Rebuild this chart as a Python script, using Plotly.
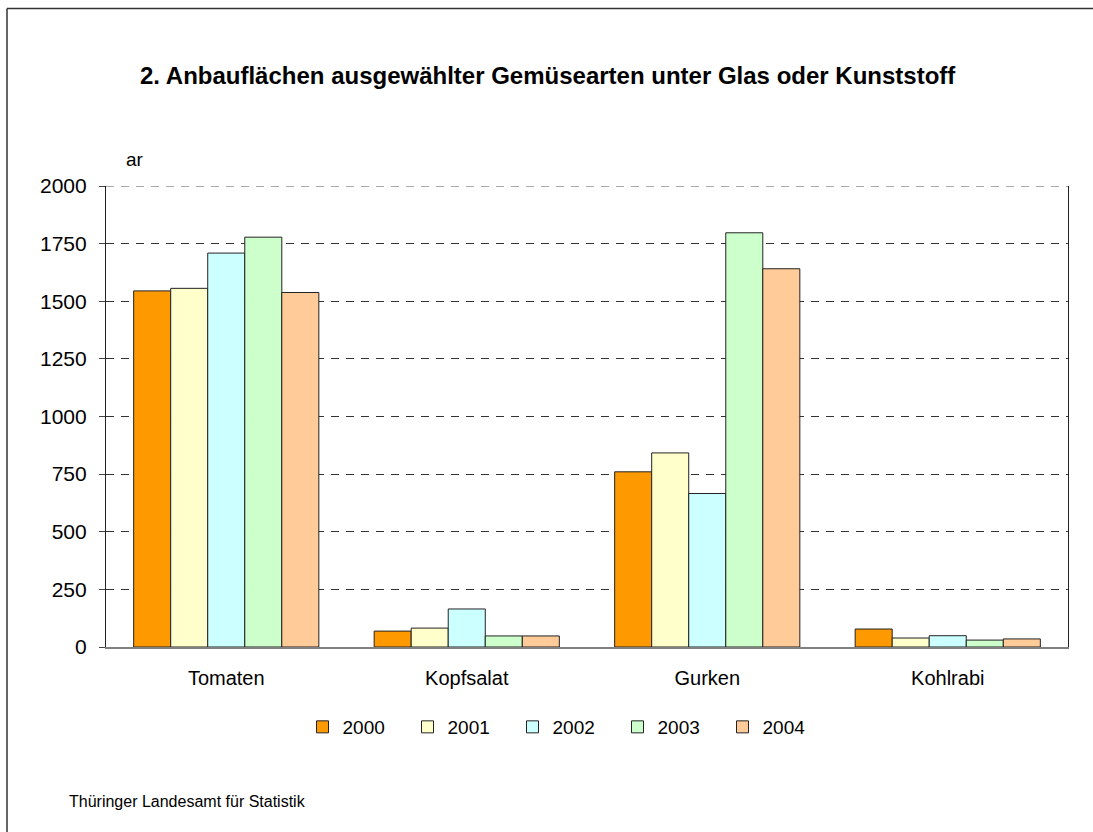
import plotly.graph_objects as go

categories = ["Tomaten", "Kopfsalat", "Gurken", "Kohlrabi"]
years = ["2000", "2001", "2002", "2003", "2004"]
v2000 = [1545, 69, 760, 78]
v2001 = [1556, 82, 842, 39]
v2002 = [1709, 165, 666, 49]
v2003 = [1778, 48, 1797, 30]
v2004 = [1538, 48, 1641, 35]
series = [v2000, v2001, v2002, v2003, v2004]
colors = ["#FF9900", "#FFFFCC", "#CCFFFF", "#CCFFCC", "#FFCC99"]
yticks = [0, 250, 500, 750, 1000, 1250, 1500, 1750, 2000]

FONT = "Liberation Sans, Arial, sans-serif"

fig = go.Figure()
for name, vals, col in zip(years, series, colors):
    fig.add_trace(go.Bar(
        x=categories, y=vals, name=name,
        marker=dict(color=col, line=dict(color="#222222", width=1)),
    ))

W, H = 1093, 832
ml, mr, mt, mb = 106, 25, 186, 185
pw = W - ml - mr
ph = H - mt - mb

def px_x(x):
    return (x - ml) / pw

def px_y(y):
    return (H - mb - y) / ph

fig.update_layout(
    width=W, height=H,
    margin=dict(l=ml, r=mr, t=mt, b=mb),
    paper_bgcolor="white", plot_bgcolor="white",
    barmode="group", bargap=0.23, bargroupgap=0,
    font=dict(family=FONT, size=20, color="black"),
    showlegend=True,
    legend=dict(
        orientation="h", x=0.5 - 22 / pw, xanchor="center",
        y=px_y(727), yanchor="middle", bgcolor="rgba(0,0,0,0)",
        font=dict(size=19), entrywidth=60, entrywidthmode="pixels",
        itemclick=False, tracegroupgap=0,
    ),
    xaxis=dict(
        showline=True, linecolor="#808080", linewidth=1.5,
        ticks="", showgrid=False, ticklabelstandoff=12,
        tickfont=dict(size=20),
    ),
    yaxis=dict(
        range=[0, 2000], tickvals=yticks,
        showline=True, linecolor="#222222", linewidth=1.2, mirror=True,
        ticks="outside", ticklen=6, tickcolor="#444444",
        showgrid=True, gridcolor="#333333", gridwidth=1, griddash="8px,7px",
        zeroline=False, ticklabelstandoff=8,
        tickfont=dict(size=21),
    ),
)

# top gridline at the maximum tick (Plotly skips it at the plot edge)
fig.add_shape(
    type="line", xref="paper", yref="y", x0=0, x1=1, y0=yticks[-1], y1=yticks[-1],
    line=dict(color="#555555", width=1.2, dash="8px,7px"),
)

fig.add_annotation(
    text="<b>2. Anbauflächen ausgewählter Gemüsearten unter Glas oder Kunststoff</b>",
    xref="paper", yref="paper", x=px_x(548), y=px_y(75),
    xanchor="center", yanchor="middle", showarrow=False,
    font=dict(family=FONT, size=24, color="black"),
)
fig.add_annotation(
    text="ar", xref="paper", yref="paper", x=px_x(124), y=px_y(160),
    xanchor="left", yanchor="middle", showarrow=False,
    font=dict(family=FONT, size=19, color="black"),
)
fig.add_annotation(
    text="Thüringer Landesamt für Statistik", xref="paper", yref="paper",
    x=px_x(67), y=px_y(801), xanchor="left", yanchor="middle", showarrow=False,
    font=dict(family=FONT, size=16, color="black"),
)
# outer chart frame: only top and left edges are visible in the picture
fig.add_shape(
    type="line", xref="paper", yref="paper",
    x0=px_x(7), y0=px_y(8.5), x1=px_x(W + 5), y1=px_y(8.5),
    line=dict(color="#333333", width=1.5), layer="below",
)
fig.add_shape(
    type="line", xref="paper", yref="paper",
    x0=px_x(7), y0=px_y(8.5), x1=px_x(7), y1=px_y(H + 5),
    line=dict(color="#333333", width=1.5), layer="below",
)

fig.write_html("out.html", config={"displayModeBar": False},
               post_script="document.body.style.margin='0';")
